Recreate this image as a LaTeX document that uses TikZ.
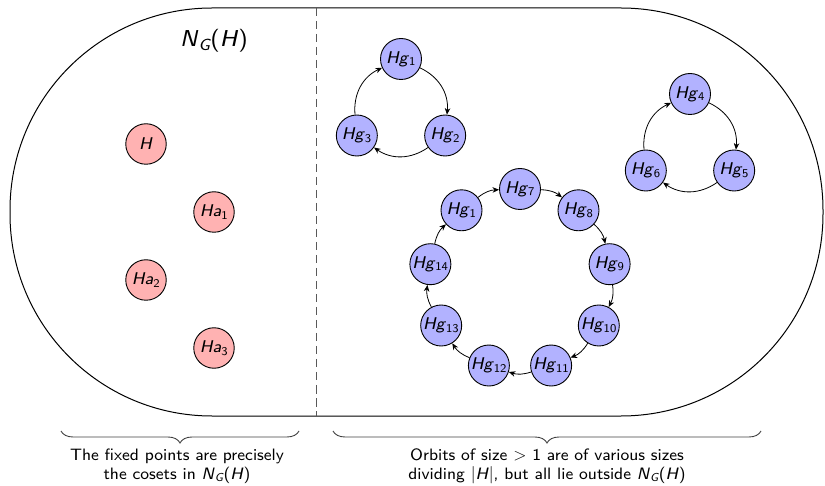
\documentclass[tikz,border=0pt]{standalone}
\usepackage{amsmath}
\usepackage{fontspec}
\setsansfont{lmsans8-regular}[Extension=.otf, ItalicFont=lmsans8-oblique]
\usetikzlibrary{arrows.meta,decorations.pathreplacing,calc}
\newcommand{\cset}[2]{\textit{#1}$_{\text{#2}}$}
\newcommand{\NGH}{\textit{N}$_{\text{\itshape G}}$(\textit{H})}
\begin{document}
\begin{tikzpicture}[x=1pt,y=-1pt,
  every node/.style={font=\sffamily\fontsize{16.5}{19}\selectfont},
  fixpt/.style={circle, draw, line width=0.9pt, fill=red!30, minimum size=40.5pt, inner sep=0pt, font=\sffamily\fontsize{17}{19}\selectfont},
  orb/.style={circle, draw, line width=0.9pt, fill=blue!30, minimum size=41pt, inner sep=0pt, font=\sffamily\fontsize{17}{19}\selectfont},
  arr/.style={-{Stealth[length=6.5pt,width=5.5pt,inset=2pt]}, line width=0.8pt},
  outline/.style={line width=1pt},
  divider/.style={line width=1pt, black!65, dash pattern=on 8.5pt off 4.5pt},
  bracestyle/.style={decorate, decoration={brace, mirror, amplitude=12pt}, line width=0.9pt, black!75},
  caption/.style={align=center, anchor=north}]
\useasboundingbox (0,0) rectangle (825,486);
% outline
\draw[outline, rounded corners=202pt] (10,8) rectangle (823,416);
\coordinate (dtop) at (316,8);
\coordinate (dbot) at (316,416);
\draw[divider] (dtop) -- (dbot);
\node[font=\sffamily\fontsize{23}{25}\selectfont] (ng) at (214,41) {\NGH};
% fixed points
\node[fixpt] (h)  at (146,144) {\textit{H}};
\node[fixpt] (a1) at (214,212) {\cset{Ha}{1}};
\node[fixpt] (a2) at (146,280) {\cset{Ha}{2}};
\node[fixpt] (a3) at (214,348) {\cset{Ha}{3}};
% triangle 1
\coordinate (t1) at (401,110);
\node[orb] (p1) at ($(t1)+(-90:51)$) {\cset{Hg}{1}};
\node[orb] (p2) at ($(t1)+(30:51)$) {\cset{Hg}{2}};
\node[orb] (p3) at ($(t1)+(150:51)$) {\cset{Hg}{3}};
\draw[arr] (p1) to[bend left=35] (p2);
\draw[arr] (p2) to[bend left=35] (p3);
\draw[arr] (p3) to[bend left=35] (p1);
% triangle 2
\coordinate (t2) at (690,145);
\node[orb] (q4) at ($(t2)+(-90:51)$) {\cset{Hg}{4}};
\node[orb] (q5) at ($(t2)+(30:51)$) {\cset{Hg}{5}};
\node[orb] (q6) at ($(t2)+(150:51)$) {\cset{Hg}{6}};
\draw[arr] (q4) to[bend left=35] (q5);
\draw[arr] (q5) to[bend left=35] (q6);
\draw[arr] (q6) to[bend left=35] (q4);
% ring of nine
\coordinate (rc) at (520,280);
\node[orb] (r1)  at ($(rc)+(-130:91)$) {\cset{Hg}{1}};
\node[orb] (r7)  at ($(rc)+(-90:91)$)  {\cset{Hg}{7}};
\node[orb] (r8)  at ($(rc)+(-50:91)$)  {\cset{Hg}{8}};
\node[orb] (r9)  at ($(rc)+(-10:91)$)  {\cset{Hg}{9}};
\node[orb] (r10) at ($(rc)+(30:91)$)   {\cset{Hg}{10}};
\node[orb] (r11) at ($(rc)+(70:91)$)   {\cset{Hg}{11}};
\node[orb] (r12) at ($(rc)+(110:91)$)  {\cset{Hg}{12}};
\node[orb] (r13) at ($(rc)+(150:91)$)  {\cset{Hg}{13}};
\node[orb] (r14) at ($(rc)+(190:91)$)  {\cset{Hg}{14}};
\foreach \a/\b in {r1/r7,r7/r8,r8/r9,r9/r10,r10/r11,r11/r12,r12/r13,r13/r14,r14/r1}
  \draw[arr] (\a) to[bend left=18] (\b);
% braces
\coordinate (bl1) at (61,431);
\coordinate (bl2) at (299,431);
\coordinate (br1) at (333,431);
\coordinate (br2) at (761,431);
\draw[bracestyle] (bl1) -- (bl2);
\draw[bracestyle] (br1) -- (br2);
\node[caption] (capl) at (177,445) {The fixed points are precisely\\the cosets in \NGH};
\node[caption] (capr) at (547,445) {Orbits of size $>$ 1 are of various sizes\\dividing $|$\textit{H}$|$, but all lie outside \NGH};
\end{tikzpicture}
\end{document}
